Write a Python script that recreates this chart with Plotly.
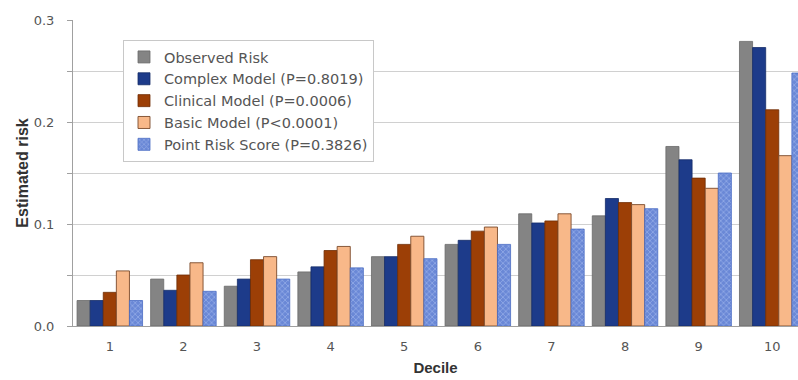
import plotly.graph_objects as go

deciles = ["1", "2", "3", "4", "5", "6", "7", "8", "9", "10"]
observed = [0.025, 0.046, 0.039, 0.053, 0.068, 0.080, 0.110, 0.108, 0.176, 0.279]
complex_model = [0.025, 0.035, 0.046, 0.058, 0.068, 0.084, 0.101, 0.125, 0.163, 0.273]
clinical_model = [0.033, 0.050, 0.065, 0.074, 0.080, 0.093, 0.103, 0.121, 0.145, 0.212]
basic_model = [0.054, 0.062, 0.068, 0.078, 0.088, 0.097, 0.110, 0.119, 0.135, 0.167]
point_score = [0.025, 0.034, 0.046, 0.057, 0.066, 0.080, 0.095, 0.115, 0.150, 0.248]

names = ["Observed Risk", "Complex Model (P=0.8019)", "Clinical Model (P=0.0006)",
         "Basic Model (P<0.0001)", "Point Risk Score (P=0.3826)"]
ytick_vals = [0, 0.05, 0.1, 0.15, 0.2, 0.25, 0.3]
ytick_text = ["0.0", "", "0.1", "", "0.2", "", "0.3"]

x = list(range(1, 11))
fig = go.Figure()
fig.add_bar(x=x, y=observed, name=names[0],
            marker=dict(color="#848484", line=dict(color="#6a6a6a", width=0.8)))
fig.add_bar(x=x, y=complex_model, name=names[1],
            marker=dict(color="#1d3b8a", line=dict(color="#142c68", width=0.8)))
fig.add_bar(x=x, y=clinical_model, name=names[2],
            marker=dict(color="#9c3f06", line=dict(color="#6e2c04", width=0.8)))
fig.add_bar(x=x, y=basic_model, name=names[3],
            marker=dict(color="#f8b889", line=dict(color="#7a4a2a", width=0.9)))
fig.add_bar(x=x, y=point_score, name=names[4],
            marker=dict(color="#7792da", line=dict(color="#4a6cc4", width=0.8),
                        pattern=dict(shape="x", fgcolor="#b2c4f2", bgcolor="#6a88d6",
                                     size=4, solidity=0.4)))

fig.update_layout(
    width=798, height=380,
    margin=dict(l=73, r=0, t=20, b=54),
    paper_bgcolor="white", plot_bgcolor="white",
    barmode="group", bargap=0.11, bargroupgap=0,
    font=dict(family="DejaVu Sans, sans-serif", size=13, color="#555555"),
    showlegend=True,
    legend=dict(x=(123 - 73) / 725, y=(326 - 40) / 306, xanchor="left", yanchor="top",
                bgcolor="white", bordercolor="#c8c8c8", borderwidth=1,
                font=dict(family="DejaVu Sans, sans-serif", size=14.5, color="#555555"),
                itemwidth=30, tracegroupgap=0),
)
fig.update_xaxes(
    range=[0.5, 10.35], tickvals=x, ticktext=deciles,
    showline=True, linecolor="#a0a0a0", linewidth=1,
    ticks="", showgrid=False, automargin=False, ticklabelstandoff=8,
    tickfont=dict(family="DejaVu Sans, sans-serif", size=13, color="#555555"),
    title=dict(text="<b>Decile</b>", standoff=9,
               font=dict(family="Liberation Sans, Arial, sans-serif", size=15, color="#333333")),
)
fig.update_yaxes(
    range=[0, 0.3], tickvals=ytick_vals, ticktext=ytick_text,
    showline=True, linecolor="#a0a0a0", linewidth=1,
    ticks="outside", ticklen=5, tickcolor="#a0a0a0", ticklabelstandoff=10,
    showgrid=True, gridcolor="#d0d0d0", gridwidth=1,
    zeroline=False, automargin=False,
    tickfont=dict(family="DejaVu Sans, sans-serif", size=13, color="#555555"),
    title=dict(text="<b>Estimated risk</b>", standoff=1,
               font=dict(family="Liberation Sans, Arial, sans-serif", size=16, color="#333333")),
)

fig.write_html("out.html", config={"displayModeBar": False},
               post_script="document.body.style.margin='0';")
